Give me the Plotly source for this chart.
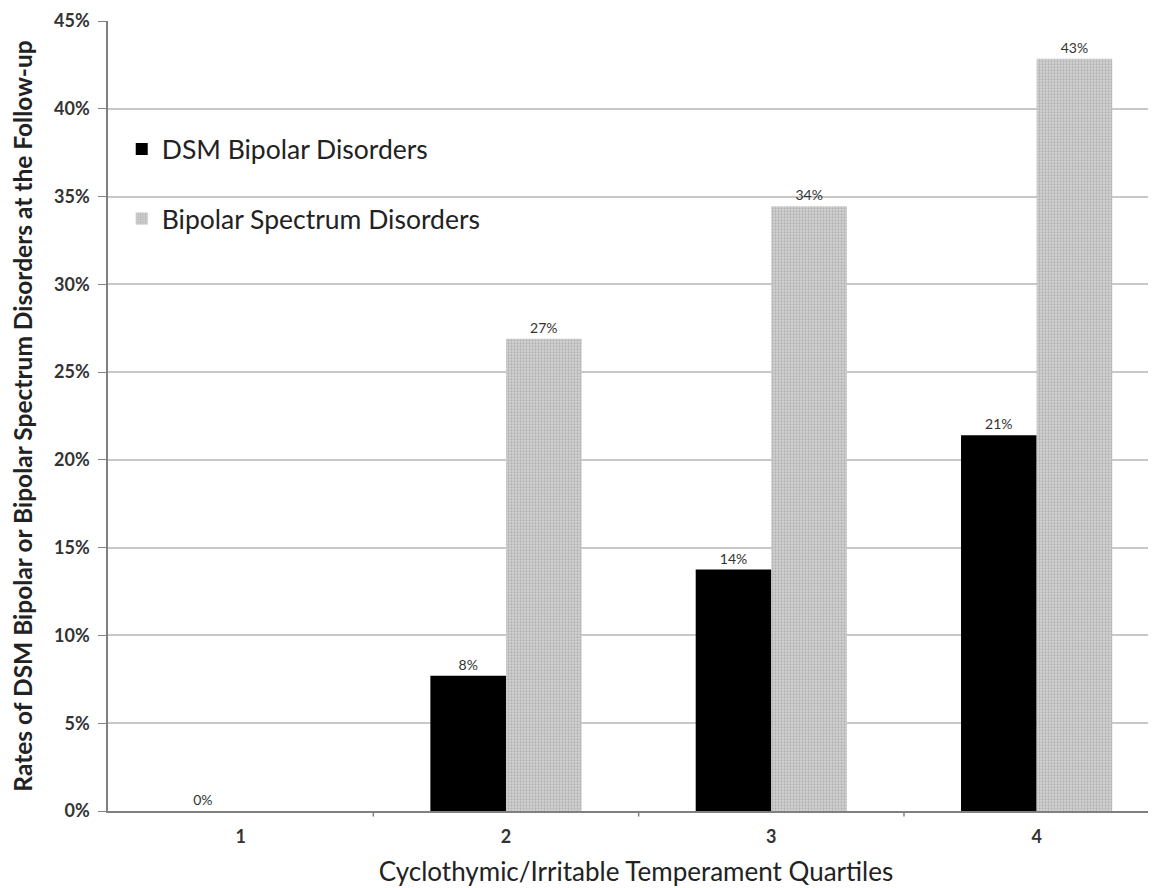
import plotly.graph_objects as go

categories = ["1", "2", "3", "4"]
dsm_values = [0.0, 7.7, 13.75, 21.4]
spectrum_values = [0.0, 26.9, 34.45, 42.85]
dsm_labels = ["0%", "8%", "14%", "21%"]
spectrum_labels = ["", "27%", "34%", "43%"]
y_ticks = [0, 5, 10, 15, 20, 25, 30, 35, 40, 45]
y_tick_labels = [f"{v}%" for v in y_ticks]

font_family = "Lato, 'Open Sans', sans-serif"

fig = go.Figure()
fig.add_trace(go.Bar(
    x=categories, y=dsm_values, name="DSM Bipolar Disorders",
    marker=dict(color="#000000", line=dict(width=0)),
    text=dsm_labels, textposition="outside", cliponaxis=False,
    textfont=dict(size=14, color="#333333", family=font_family),
    legendgroup="a",
))
fig.add_trace(go.Bar(
    x=categories, y=spectrum_values, name="Bipolar Spectrum Disorders",
    marker=dict(color="#c0c0c0", line=dict(width=0),
                pattern=dict(shape=".", size=3, solidity=0.45,
                             fgcolor="#8f8f8f", bgcolor="#d4d4d4")),
    text=spectrum_labels, textposition="outside", cliponaxis=False,
    textfont=dict(size=14, color="#333333", family=font_family),
    legendgroup="b",
))

fig.update_layout(
    width=1156, height=888,
    margin=dict(l=100, r=0, t=13, b=85),
    paper_bgcolor="white", plot_bgcolor="white",
    barmode="group", bargap=0.43, bargroupgap=0,
    font=dict(family=font_family, color="#333333"),
    legend=dict(x=0.013, y=0.868, xanchor="left", yanchor="top",
                font=dict(size=26.5, color="#222222"),
                tracegroupgap=32, traceorder="grouped",
                bgcolor="rgba(255,255,255,0)"),
    xaxis=dict(
        type="category", range=[-0.5, 3.48], automargin=False,
        showline=True, linecolor="#808080", linewidth=1.5,
        ticks="", showgrid=False, ticklabelstandoff=9,
        tickfont=dict(size=18, color="#333333", family=font_family, weight="bold"),
        title=dict(text="Cyclothymic/Irritable Temperament Quartiles",
                   font=dict(size=26, color="#222222"), standoff=16),
    ),
    yaxis=dict(
        range=[0, 45], tickvals=y_ticks, ticktext=y_tick_labels, automargin=False,
        showline=True, linecolor="#808080", linewidth=1.5,
        ticks="outside", ticklen=8, tickcolor="#808080", ticklabelstandoff=5,
        ticklabeloverflow="allow",
        showgrid=True, gridcolor="#c8c8c8", gridwidth=1.5,
        zeroline=False,
        tickfont=dict(size=18, color="#333333", family=font_family, weight="bold"),
        title=dict(text="<b>Rates of DSM Bipolar or Bipolar Spectrum Disorders at the Follow-up</b>",
                   font=dict(size=24.5, color="#222222"), standoff=26),
    ),
)

# category separator ticks on the x axis
for b in [0.5, 1.5, 2.5]:
    fig.add_shape(type="line", xref="x", yref="paper", x0=b, x1=b, y0=0, y1=-0.007,
                  line=dict(color="#808080", width=1.5))

fig.write_html("out.html")
